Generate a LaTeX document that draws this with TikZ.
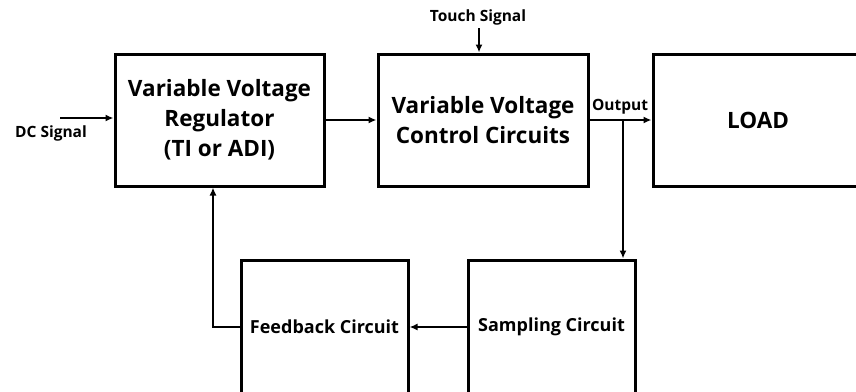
\documentclass[tikz,border=0pt]{standalone}
\usepackage{fontspec}
\setmainfont{Open Sans}
\usetikzlibrary{arrows.meta}
\begin{document}
\begin{tikzpicture}[x=1pt,y=-1pt,
  blk/.style={draw,line width=3pt,align=center,font=\bfseries\fontsize{22.5}{30}\selectfont,inner sep=0pt},
  blks/.style={blk,font=\bfseries\fontsize{18}{24}\selectfont},
  lbl/.style={font=\bfseries\fontsize{15.5}{18}\selectfont,inner sep=0pt},
  con/.style={line width=2.5pt,-{Latex[length=8pt,width=7pt]}}]
\useasboundingbox (0,0) rectangle (856,391);
\clip (0,0) rectangle (856,391);
\node[blk,minimum width=209pt,minimum height=132pt] (b1) at (219.5,120) {Variable Voltage\\Regulator\\(TI or ADI)};
\node[blk,minimum width=210pt,minimum height=132pt] (b2) at (483,120) {Variable Voltage\\Control Circuits};
\node[blk,minimum width=210pt,minimum height=132pt] (load) at (758,120) {LOAD};
\node[blks,minimum width=167pt,minimum height=134pt] (fb) at (324.5,327) {Feedback Circuit};
\node[blks,minimum width=167pt,minimum height=134pt] (samp) at (551.5,327) {Sampling Circuit};
\node[lbl] (dc) at (51,133) {DC Signal};
\node[lbl] (touch) at (478,17) {Touch Signal};
\node[lbl] (out) at (620,107) {Output};
\coordinate (dcin) at (60,118);
\coordinate (tin) at (479,28);
\coordinate (tap) at (623,120);
\coordinate (fbl) at (213,327);
\draw[con] (dcin) -- (dcin -| b1.west);
\draw[con] (b1.east) -- (b2.west);
\draw[con] (tin) -- (tin |- b2.north);
\draw[con] (b2.east) -- (load.west);
\draw[con] (tap) -- (tap |- samp.north);
\draw[con] (samp.west) -- (fb.east);
\draw[con] (fb.west) -- (fbl) -- (fbl |- b1.south);
\end{tikzpicture}
\end{document}
